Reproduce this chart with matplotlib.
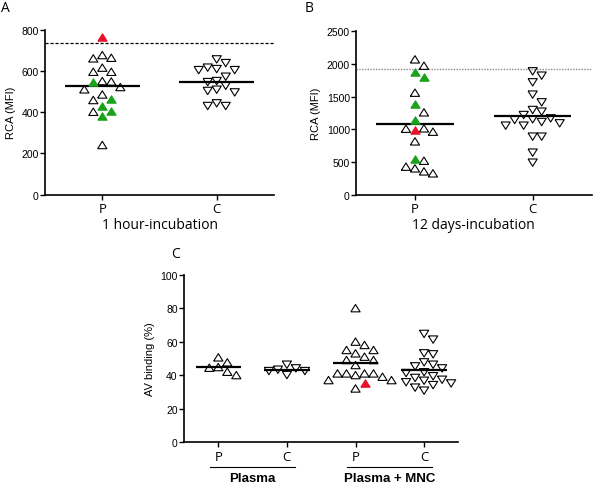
import matplotlib
matplotlib.use("Agg")
import matplotlib.pyplot as plt
from matplotlib import transforms
import numpy as np

plt.rcParams['font.family'] = ['Liberation Sans', 'DejaVu Sans']

# ---- panel A: 1 hour incubation, RCA (MFI)
a_p_open = [677, 661, 664, 596, 596, 616, 551, 549, 511, 522, 486, 459, 402, 241]
a_p_green = [545, 464, 431, 404, 380]
a_p_red = [766]
a_c = [656, 638, 616, 604, 604, 609, 572, 546, 551, 528, 503, 496, 509, 443, 430, 430]
a_cutoff = 734

# ---- panel B: 12 days incubation, RCA (MFI)
b_p_open = [2071, 1974, 1561, 1260, 1010, 964, 1015, 816, 520, 403, 429, 327, 357]
b_p_green = [1801, 1872, 1388, 1138, 546]
b_p_red = [990]
b_c = [1888, 1821, 1719, 1531, 1413, 1296, 1270, 1219, 1153, 1112, 1056, 1056,
       1092, 1143, 1168, 888, 888, 643, 490]
b_cutoff = 1923

# ---- panel C: AV binding (%)
c_plasma_p = [50.6, 47.6, 44.8, 44.4, 42.0, 40.0]
c_plasma_c = [46.2, 44.0, 43.2, 42.4, 42.4, 40.0]
c_mnc_p_open = [80, 60, 58, 55, 55, 53, 51, 49, 49, 46, 41, 41, 41, 41, 40, 39, 37, 37, 32]
c_mnc_p_red = [35]
c_mnc_c = [64.6, 61.2, 53, 52.4, 47.6, 46.2, 45.2, 44, 41.7, 41.2, 39.3, 38.3, 37.2,
           36.6, 35.7, 35, 34, 32.5, 30.7]

ab_cats = ['P', 'C']
c_cats = ['P', 'C', 'P', 'C']
c_groups = ['Plasma', 'Plasma + MNC']

GREEN = '#1aa31a'
RED = '#e8102a'
UP = [(-1, -0.8), (1, -0.8), (0, 0.8), (-1, -0.8)]
DOWN = [(-1, 0.8), (1, 0.8), (0, -0.8), (-1, 0.8)]
MS = 44
W_PX, H_PX = 9.0, 8.5

fig = plt.figure(figsize=(5.96, 4.85), dpi=100)


def swarm(ax, values, x0):
    # GraphPad-like scatter dot layout: shift points sideways in half-marker steps
    vals = np.asarray(values, dtype=float)
    pts = ax.transData.transform(np.column_stack([np.full(len(vals), x0), vals]))
    order = np.argsort(-vals, kind='stable')
    xs = np.zeros(len(vals))
    placed = []
    for i in order:
        y = pts[i, 1]
        k = 0
        while True:
            cand = [0] if k == 0 else [k, -k]
            ok = None
            for c in cand:
                dx = c * W_PX / 2
                if all(abs(dx - px) >= W_PX or abs(y - py) >= H_PX for px, py in placed):
                    ok = dx
                    break
            if ok is not None:
                break
            k += 1
        placed.append((ok, y))
        xs[i] = ax.transData.inverted().transform((pts[i, 0] + ok, y))[0]
    return xs


def dot_group(ax, x0, series, marker):
    # series: list of (values, facecolor)
    allv = [v for vals, _ in series for v in vals]
    cols = [c for vals, c in series for _ in vals]
    xs = swarm(ax, allv, x0)
    for x, v, c in zip(xs, allv, cols):
        fc = 'none' if c is None else c
        ec = 'black' if c is None else c
        ax.scatter(x, v, s=MS, marker=marker, facecolor=fc, edgecolor=ec,
                   linewidths=0.8, zorder=3)
    ax.hlines(np.mean(allv), x0 - 0.33, x0 + 0.33, color='black', lw=1.6, zorder=2)


def style_axes(ax, yticks, ylabel, cats):
    for s in ['top', 'right']:
        ax.spines[s].set_visible(False)
    for s in ['left', 'bottom']:
        ax.spines[s].set_linewidth(1.2)
    ax.set_yticks(yticks)
    ax.set_ylim(yticks[0], yticks[-1])
    ax.set_xticks(range(1, len(cats) + 1))
    ax.set_xticklabels(cats, fontsize=9.5, family=['Open Sans', 'DejaVu Sans'])
    ax.tick_params(axis='y', labelsize=7.5, length=3.5, width=1.0, pad=1)
    ax.tick_params(axis='x', length=3.5, width=1.0, pad=2)
    ax.set_ylabel(ylabel, fontsize=8, labelpad=4)


# panel A
axA = fig.add_axes([45.1 / 596, 1 - 195.7 / 485, 228.8 / 596, 165 / 485])
axA.set_xlim(0.5, 2.5)
style_axes(axA, [0, 200, 400, 600, 800], 'RCA (MFI)', ab_cats)
axA.axhline(a_cutoff, color='black', lw=0.9, ls=(0, (2.5, 1.5)), zorder=1)
dot_group(axA, 1, [(a_p_open, None), (a_p_green, GREEN), (a_p_red, RED)], UP)
dot_group(axA, 2, [(a_c, None)], DOWN)
axA.set_xlabel('1 hour-incubation', fontsize=10, family=['Open Sans', 'DejaVu Sans'], labelpad=1)

# panel B
axB = fig.add_axes([356.1 / 596, 1 - 195.7 / 485, 235.4 / 596, 163.4 / 485])
axB.set_xlim(0.5, 2.5)
style_axes(axB, [0, 500, 1000, 1500, 2000, 2500], 'RCA (MFI)', ab_cats)
axB.axhline(b_cutoff, color='#8a8a8a', lw=1.0, ls=(0, (1, 1)), zorder=1)
dot_group(axB, 1, [(b_p_open, None), (b_p_green, GREEN), (b_p_red, RED)], UP)
dot_group(axB, 2, [(b_c, None)], DOWN)
axB.set_xlabel('12 days-incubation', fontsize=10, family=['Open Sans', 'DejaVu Sans'], labelpad=1)

# panel C
axC = fig.add_axes([184.0 / 596, 1 - 443 / 485, 274.4 / 596, 167.3 / 485])
axC.set_xlim(0.5, 4.5)
style_axes(axC, [0, 20, 40, 60, 80, 100], 'AV binding (%)', c_cats)
dot_group(axC, 1, [(c_plasma_p, None)], UP)
dot_group(axC, 2, [(c_plasma_c, None)], DOWN)
dot_group(axC, 3, [(c_mnc_p_open, None), (c_mnc_p_red, RED)], UP)
dot_group(axC, 4, [(c_mnc_c, None)], DOWN)

blend = transforms.blended_transform_factory(axC.transData, axC.transAxes)
for i, name in enumerate(c_groups):
    xc = 1.5 + 2 * i
    axC.plot([xc - 0.62, xc + 0.62], [-0.148, -0.148], color='black', lw=0.8,
             transform=blend, clip_on=False)
    axC.text(xc, -0.215, name, transform=blend, ha='center', va='center',
             fontsize=9.5, fontweight='bold')

# panel letters
for letter, x, y in [('A', 5, 9), ('B', 309, 8), ('C', 175, 254)]:
    fig.text(x / 596, 1 - y / 485, letter, fontsize=10, ha='center', va='center',
             family=['Open Sans', 'DejaVu Sans'])

fig.savefig('out.png', dpi=100)
